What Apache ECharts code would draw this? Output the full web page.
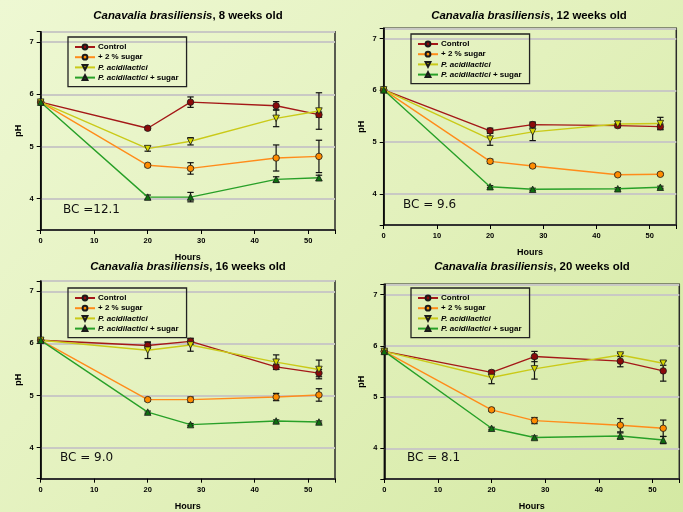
<!DOCTYPE html>
<html><head><meta charset="utf-8">
<script src="https://cdn.jsdelivr.net/npm/echarts@6/dist/echarts.min.js"></script>
<style>
html,body{margin:0;padding:0;width:683px;height:512px;overflow:hidden;
background:linear-gradient(135deg,#eef8d3 0%,#e3f1bd 50%,#d4e9a3 100%);}
#c{width:683px;height:512px;}
</style>
</head><body><div id="c"></div><script>
// ---------- data ----------
const hours = [0, 20, 28, 44, 52];
const seriesNames = ['Control', '+ 2 % sugar', 'P. acidilactici', 'P. acidilactici + sugar'];
const speciesName = 'Canavalia brasiliensis';
const panelAges = ['8 weeks old', '12 weeks old', '16 weeks old', '20 weeks old'];
const bcLabels = ['BC =12.1', 'BC = 9.6', 'BC = 9.0', 'BC = 8.1'];
const xTickLabels = [0, 10, 20, 30, 40, 50];
const yTickLabels = [4, 5, 6, 7];

// 8 weeks
const w8Control = [5.85, 5.35, 5.85, 5.78, 5.61];
const w8ControlErr = [0, 0.03, 0.10, 0.08, 0.05];
const w8Sugar = [5.85, 4.64, 4.58, 4.78, 4.81];
const w8SugarErr = [0, 0.03, 0.11, 0.25, 0.31];
const w8PA = [5.85, 4.96, 5.10, 5.54, 5.68];
const w8PAErr = [0, 0.05, 0.07, 0.16, 0.35];
const w8PAS = [5.85, 4.03, 4.03, 4.37, 4.40];
const w8PASErr = [0, 0.04, 0.09, 0.05, 0.05];
// 12 weeks
const w12Control = [6.01, 5.22, 5.34, 5.32, 5.30];
const w12ControlErr = [0, 0.05, 0.05, 0.04, 0.05];
const w12Sugar = [6.01, 4.63, 4.54, 4.37, 4.38];
const w12SugarErr = [0, 0.04, 0.03, 0.02, 0.02];
const w12PA = [6.01, 5.06, 5.20, 5.35, 5.36];
const w12PAErr = [0, 0.12, 0.17, 0.05, 0.12];
const w12PAS = [6.01, 4.14, 4.09, 4.10, 4.13];
const w12PASErr = [0, 0.02, 0.02, 0.02, 0.02];
// 16 weeks
const w16Control = [6.06, 5.96, 6.04, 5.55, 5.43];
const w16ControlErr = [0, 0.06, 0.06, 0.05, 0.07];
const w16Sugar = [6.06, 4.92, 4.92, 4.97, 5.01];
const w16SugarErr = [0, 0.03, 0.05, 0.07, 0.12];
const w16PA = [6.06, 5.87, 5.97, 5.64, 5.50];
const w16PAErr = [0, 0.16, 0.12, 0.14, 0.18];
const w16PAS = [6.06, 4.68, 4.44, 4.51, 4.49];
const w16PASErr = [0, 0.02, 0.02, 0.02, 0.02];
// 20 weeks
const w20Control = [5.89, 5.48, 5.79, 5.70, 5.51];
const w20ControlErr = [0, 0.04, 0.10, 0.11, 0.20];
const w20Sugar = [5.89, 4.75, 4.54, 4.45, 4.39];
const w20SugarErr = [0, 0.03, 0.06, 0.13, 0.16];
const w20PA = [5.89, 5.38, 5.55, 5.82, 5.66];
const w20PAErr = [0, 0.12, 0.20, 0.03, 0.04];
const w20PAS = [5.89, 4.39, 4.21, 4.24, 4.16];
const w20PASErr = [0, 0.02, 0.03, 0.06, 0.07];

const panelValues = [
  [w8Control, w8Sugar, w8PA, w8PAS],
  [w12Control, w12Sugar, w12PA, w12PAS],
  [w16Control, w16Sugar, w16PA, w16PAS],
  [w20Control, w20Sugar, w20PA, w20PAS]
];
const panelErrors = [
  [w8ControlErr, w8SugarErr, w8PAErr, w8PASErr],
  [w12ControlErr, w12SugarErr, w12PAErr, w12PASErr],
  [w16ControlErr, w16SugarErr, w16PAErr, w16PASErr],
  [w20ControlErr, w20SugarErr, w20PAErr, w20PASErr]
];

// ---------- layout / style ----------
const grids = [
  {left: 40.7, top: 31.7, width: 294.3, height: 198.3},
  {left: 383.7, top: 28.3, width: 292.6, height: 196.7},
  {left: 40.7, top: 281, width: 294.3, height: 197.7},
  {left: 384.3, top: 284.3, width: 295, height: 195}
];
const titlePos = [[188, 15.7], [529, 15.7], [188, 266.7], [532, 267.3]];
const bcPos = [[63, 210], [403, 205], [60, 458], [407, 458]];
const legendPos = [[68, 37], [411, 34], [68, 288], [411, 288]];
const styles = [
  {line: '#a41818', fill: '#8b0a0a', symbol: 'circle', rotate: 0},
  {line: '#ff8c1a', fill: '#ff8c00', symbol: 'circle', rotate: 0},
  {line: '#caca18', fill: '#d8d800', symbol: 'triangle', rotate: 180},
  {line: '#28a028', fill: '#0f6f0f', symbol: 'triangle', rotate: 0}
];
const FONT = 'Liberation Sans, Arial, sans-serif';

function renderErr(params, api) {
  const x = api.value(0), y = api.value(1), e = api.value(2);
  if (!e) return null;
  const t = api.coord([x, y + e]), b = api.coord([x, y - e]);
  const hw = 3.2, st = {stroke: '#111', lineWidth: 1.2};
  return {type: 'group', children: [
    {type: 'line', shape: {x1: t[0], y1: t[1], x2: b[0], y2: b[1]}, style: st},
    {type: 'line', shape: {x1: t[0] - hw, y1: t[1], x2: t[0] + hw, y2: t[1]}, style: st},
    {type: 'line', shape: {x1: b[0] - hw, y1: b[1], x2: b[0] + hw, y2: b[1]}, style: st}
  ]};
}

const option = {
  animation: false,
  backgroundColor: 'transparent',
  grid: [], xAxis: [], yAxis: [], series: [], legend: [], graphic: []
};

for (let p = 0; p < 4; p++) {
  option.grid.push(Object.assign({show: true, borderColor: '#2a2a2a', borderWidth: 1.5,
    backgroundColor: 'transparent', containLabel: false}, grids[p]));
  option.xAxis.push({
    type: 'value', gridIndex: p, min: 0, max: 55, interval: 10,
    name: 'Hours', nameLocation: 'middle', nameGap: 23,
    nameTextStyle: {fontFamily: FONT, fontWeight: 'bold', fontSize: 9, color: '#000'},
    axisLine: {show: true, onZero: false, lineStyle: {color: '#000', width: 1.5}},
    axisTick: {show: true, length: 4, lineStyle: {color: '#000', width: 1}},
    minorTick: {show: false},
    axisLabel: {margin: 7, fontFamily: FONT, fontWeight: 'bold', fontSize: 7.5, color: '#000',
      formatter: v => xTickLabels.includes(v) ? String(v) : ''},
    splitLine: {show: false}
  });
  option.yAxis.push({
    type: 'value', gridIndex: p, min: 3.4, max: 7.2, splitNumber: 4,
    name: 'pH', nameLocation: 'middle', nameGap: 18, nameRotate: 90,
    nameTextStyle: {fontFamily: FONT, fontWeight: 'bold', fontSize: 9, color: '#000'},
    axisLine: {show: true, onZero: false, lineStyle: {color: '#000', width: 1.5}},
    axisTick: {show: true, length: 4, lineStyle: {color: '#000', width: 1}},
    minorTick: {show: false},
    axisLabel: {margin: 7, fontFamily: FONT, fontWeight: 'bold', fontSize: 7.5, color: '#000',
      formatter: v => yTickLabels.includes(v) ? String(v) : ''},
    splitLine: {show: true, lineStyle: {color: '#c9c9c4', width: 2}}
  });
  for (let s = 0; s < 4; s++) {
    const st = styles[s];
    option.series.push({
      type: 'line', name: seriesNames[s], xAxisIndex: p, yAxisIndex: p, z: 3,
      data: hours.map((h, i) => [h, panelValues[p][s][i]]),
      symbol: st.symbol, symbolRotate: st.rotate, symbolSize: 6.5,
      lineStyle: {color: st.line, width: 1.4},
      itemStyle: {color: st.fill, borderColor: '#1a1a1a', borderWidth: 0.8}
    });
    option.series.push({
      type: 'custom', name: seriesNames[s] + ' err', xAxisIndex: p, yAxisIndex: p, z: 2,
      renderItem: renderErr, encode: {x: 0, y: 1}, silent: true,
      data: hours.map((h, i) => [h, panelValues[p][s][i], panelErrors[p][s][i]])
    });
  }
  option.legend.push({
    data: seriesNames, orient: 'vertical', left: legendPos[p][0], top: legendPos[p][1],
    borderColor: '#222', borderWidth: 1.3, padding: [6, 8, 5, 6],
    itemWidth: 20, itemHeight: 6, itemGap: 2.2, selectedMode: false,
    textStyle: {fontFamily: FONT, fontWeight: 'bold', fontSize: 8, lineHeight: 8, color: '#000', padding: [0, 0, 0, -2],
      rich: {i: {fontFamily: FONT, fontWeight: 'bold', fontStyle: 'italic', fontSize: 8, lineHeight: 8, color: '#000'},
             n: {fontFamily: FONT, fontWeight: 'bold', fontSize: 8, lineHeight: 8, color: '#000'}}},
    formatter: name => name.indexOf('P. acidilactici') === 0
      ? '{i|P. acidilactici}{n|' + name.slice('P. acidilactici'.length) + '}' : '{n|' + name + '}'
  });
  option.graphic.push({
    type: 'text', x: titlePos[p][0], y: titlePos[p][1],
    style: {text: '{i|' + speciesName + '}{b|, ' + panelAges[p] + '}', align: 'center', verticalAlign: 'middle',
      rich: {i: {fontFamily: FONT, fontWeight: 'bold', fontStyle: 'italic', fontSize: 11.4, fill: '#000'},
             b: {fontFamily: FONT, fontWeight: 'bold', fontSize: 11.4, fill: '#000'}}}
  });
  option.graphic.push({
    type: 'text', x: bcPos[p][0], y: bcPos[p][1],
    style: {text: bcLabels[p], align: 'left', verticalAlign: 'middle',
      fontFamily: 'DejaVu Sans, Verdana, sans-serif', fontSize: 12, fill: '#111'}
  });
}

const chart = echarts.init(document.getElementById('c'), null, {renderer: 'canvas'});
chart.setOption(option);
</script></body></html>
